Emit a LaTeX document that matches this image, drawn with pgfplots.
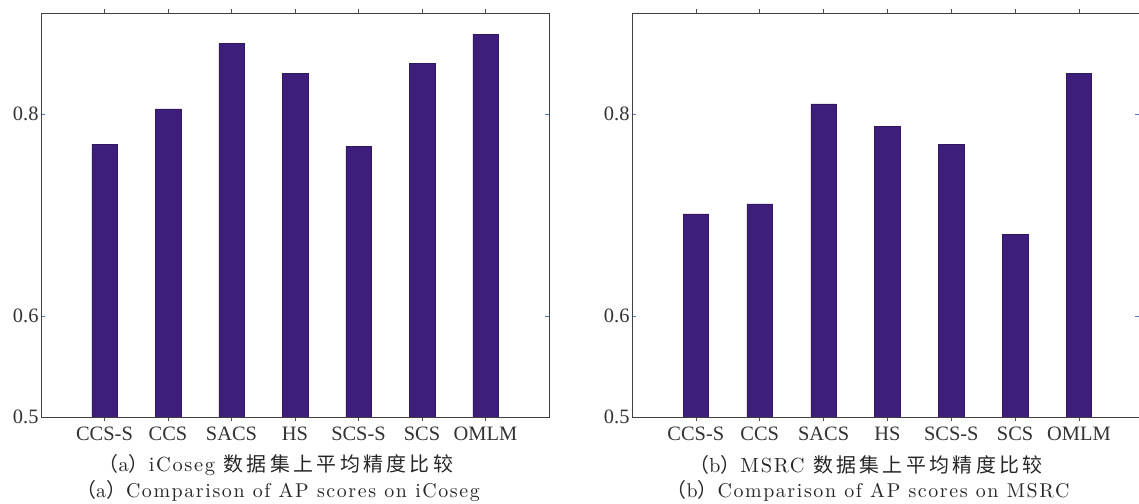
\documentclass[border=0pt]{standalone}
\usepackage{fontspec}
\usepackage{pgfplots}
\pgfplotsset{compat=1.18}
\newfontfamily\tnr{Liberation Serif}
\newfontfamily\cjk{Noto Sans CJK SC}[LetterSpace=17]
\newfontfamily\capfont{lmroman10-regular.otf}[LetterSpace=8]
\definecolor{barc}{RGB}{61,30,122}
\definecolor{tickc}{RGB}{90,120,180}
\pgfplotsset{
  apbar/.style={
    scale only axis,
    anchor=south west,
    height=404bp,
    ymin=0.5, ymax=0.9,
    xmin=0,
    ytick={0.5,0.6,0.8},
    yticklabels={0.5,0.6,0.8},
    xtick={1,2,3,4,5,6,7},
    xticklabels={CCS-S,CCS,SACS,HS,SCS-S,SCS,OMLM},
    tick align=inside,
    major tick length=4bp,
    axis line style={draw=black!75, line width=0.8bp},
    every tick/.style={black!70, line width=0.6bp},
    ytick style={tickc, line width=0.8bp},
    ticklabel style={font=\tnr\fontsize{20.5}{22}\selectfont, text=black!80},
    /pgf/number format/assume math mode=true,
    /pgf/number format/fixed,
    /pgf/number format/precision=1,
    xticklabel style={yshift=-2bp},
    yticklabel style={xshift=1bp},
    ybar, bar width=25.5bp,
  },
}
\begin{document}
\begin{tikzpicture}[x=1bp,y=1bp]
\useasboundingbox (0,0) rectangle (1139,504);
\begin{axis}[apbar, at={(41bp,87bp)}, width=508bp, xmax=8]
\addplot[fill=barc, draw=barc!80!black, line width=0.5bp] coordinates {
(1,0.770) (2,0.805) (3,0.870) (4,0.840) (5,0.768) (6,0.850) (7,0.879)};
\end{axis}
\begin{axis}[apbar, at={(632bp,87bp)}, width=507bp, xmax=7.94]
\addplot[fill=barc, draw=barc!80!black, line width=0.5bp] coordinates {
(1,0.701) (2,0.711) (3,0.810) (4,0.788) (5,0.770) (6,0.681) (7,0.840)};
\end{axis}
\node[font=\capfont\fontsize{20.5}{22}\selectfont, text=black!85] at (276,39) {{\cjk\fontsize{20}{22}\selectfont （}a{\cjk\fontsize{20}{22}\selectfont ）}iCoseg {\cjk\fontsize{20}{22}\selectfont 数据集上平均精度比较}};
\node[font=\capfont\fontsize{20}{22}\selectfont, text=black!85] at (278,13) {{\cjk\fontsize{20}{22}\selectfont （}a{\cjk\fontsize{20}{22}\selectfont ）}Comparison of AP scores on iCoseg};
\node[font=\capfont\fontsize{20.5}{22}\selectfont, text=black!85] at (866,39) {{\cjk\fontsize{20}{22}\selectfont （}b{\cjk\fontsize{20}{22}\selectfont ）}MSRC {\cjk\fontsize{20}{22}\selectfont 数据集上平均精度比较}};
\node[font=\capfont\fontsize{20}{22}\selectfont, text=black!85] at (868,13) {{\cjk\fontsize{20}{22}\selectfont （}b{\cjk\fontsize{20}{22}\selectfont ）}Comparison of AP scores on MSRC};
\end{tikzpicture}
\end{document}
